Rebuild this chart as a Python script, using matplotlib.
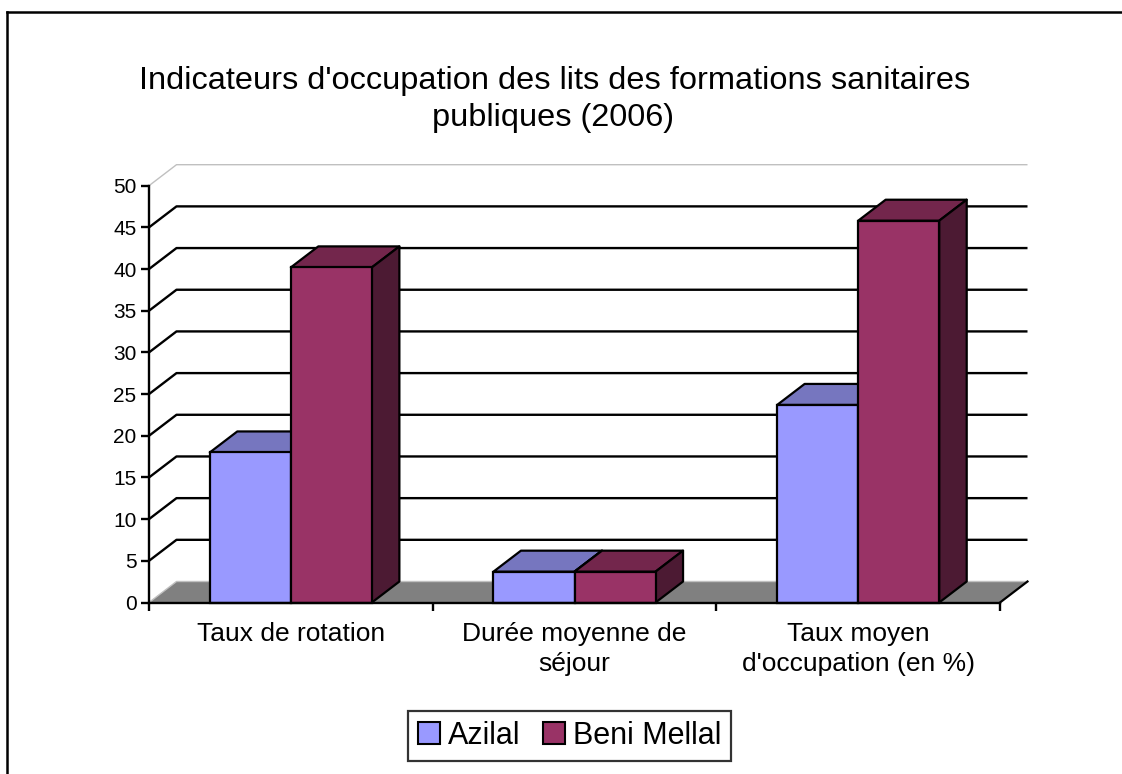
import matplotlib
matplotlib.use("Agg")
import matplotlib.pyplot as plt
from matplotlib.patches import Polygon, Patch
from matplotlib.lines import Line2D
import matplotlib.transforms as mtransforms

plt.rcParams['font.family'] = ['Liberation Sans', 'DejaVu Sans']

# ---- data ----
categories = ["Taux de rotation", "Durée moyenne de\nséjour", "Taux moyen\nd'occupation (en %)"]
series_names = ["Azilal", "Beni Mellal"]
azilal = [18.0, 3.7, 23.7]
beni_mellal = [40.2, 3.7, 45.8]
yticks = [0, 5, 10, 15, 20, 25, 30, 35, 40, 45, 50]
title_lines = ["Indicateurs d'occupation des lits des formations sanitaires",
               "publiques (2006)"]

# ---- styles ----
front_cols = ["#9999FF", "#993366"]
top_cols = ["#7676BF", "#73264C"]
side_cols = ["#4C4C80", "#4C1A33"]

W, H = 1122, 774
fig = plt.figure(figsize=(W / 100, H / 100), dpi=100)
fig.patch.set_facecolor("white")

# front plane of the plot
x0, x1, y0, y1 = 149, 1000, 602.5, 185.7
ax = fig.add_axes([x0 / W, 1 - y0 / H, (x1 - x0) / W, (y0 - y1) / H])
ax.set_xlim(-0.5, 2.5)
ax.set_ylim(0, 50)
ax.patch.set_alpha(0)

# depth offsets in data units
dx = 27.5 / (x1 - x0) * 3.0
dy = 21.0 / ((y0 - y1) / 50.0)

xl, xr = -0.5, 2.5
# floor
floor = Polygon([(xl, 0), (xr, 0), (xr + dx, dy), (xl + dx, dy)], closed=True,
                facecolor="#808080", edgecolor="none", zorder=1, clip_on=False)
ax.add_patch(floor)
ax.plot([xr, xr + dx], [0, dy], color="black", lw=1.6, zorder=1.5, clip_on=False)

# gridlines on side wall and back wall
for v in yticks:
    col = "#C0C0C0" if v in (0, 50) else "black"
    lw = 1.0 if v in (0, 50) else 1.7
    ax.plot([xl, xl + dx, xr + dx], [v, v + dy, v + dy], color=col, lw=lw,
            zorder=1.2, clip_on=False, solid_capstyle="butt")

# bars
n = len(categories)
bw = 1 / 3.5
for i in range(n):
    for s, vals in enumerate([azilal, beni_mellal]):
        h = vals[i]
        left = i - bw + s * bw
        right = left + bw
        z = 3 + i * 2 + s
        ax.bar(left, h, width=bw, align="edge", color=front_cols[s], edgecolor="black",
               linewidth=1.6, zorder=z + 0.2, clip_on=False)
        top = Polygon([(left, h), (right, h), (right + dx, h + dy), (left + dx, h + dy)],
                      closed=True, facecolor=top_cols[s], edgecolor="black", lw=1.6,
                      zorder=z, clip_on=False, joinstyle="round")
        side = Polygon([(right, 0), (right + dx, dy), (right + dx, h + dy), (right, h)],
                       closed=True, facecolor=side_cols[s], edgecolor="black", lw=1.6,
                       zorder=z, clip_on=False, joinstyle="round")
        ax.add_patch(top)
        ax.add_patch(side)

# axes styling
for sp in ["top", "right"]:
    ax.spines[sp].set_visible(False)
for sp in ["left", "bottom"]:
    ax.spines[sp].set_linewidth(1.7)
    ax.spines[sp].set_zorder(20)
ax.set_yticks(yticks)
ax.set_yticklabels([str(v) for v in yticks], fontsize=15)
ax.tick_params(axis="y", direction="out", length=6, width=1.7, pad=3)
ax.set_xticks([-0.5, 0.5, 1.5, 2.5])
ax.set_xticklabels([])
ax.tick_params(axis="x", direction="out", length=5.5, width=1.7)

# category labels (one text per line, baselines placed explicitly)
trans = mtransforms.blended_transform_factory(ax.transData, fig.transFigure)
line_baselines = [641, 670.5]
for i, lab in enumerate(categories):
    for j, part in enumerate(lab.split("\n")):
        ax.text(i, 1 - line_baselines[j] / H, part, transform=trans, ha="center",
                va="baseline", fontsize=19)

# title
fig.text(555 / W, 1 - 89.3 / H, title_lines[0], ha="center", va="baseline", fontsize=23.4)
fig.text(553 / W, 1 - 125.7 / H, title_lines[1], ha="center", va="baseline", fontsize=23.4)

# legend
handles = [Patch(facecolor=front_cols[k], edgecolor="black", lw=1.5, label=series_names[k])
           for k in range(2)]
leg = fig.legend(handles=handles, loc="center", bbox_to_anchor=(569.5 / W, 1 - 735.8 / H),
                 ncol=2, fontsize=22, frameon=True, fancybox=False, edgecolor="black",
                 handlelength=0.72, handleheight=0.72, handletextpad=0.25,
                 columnspacing=0.75, borderpad=0.32, borderaxespad=0)
leg.get_frame().set_linewidth(1.6)

# outer border
fig.add_artist(Line2D([7 / W, 7 / W], [1 - 12 / H, 0], transform=fig.transFigure,
                      color="black", lw=1.8))
fig.add_artist(Line2D([7 / W, 1], [1 - 12 / H, 1 - 12 / H], transform=fig.transFigure,
                      color="black", lw=1.8))

fig.savefig("out.png", dpi=100)
